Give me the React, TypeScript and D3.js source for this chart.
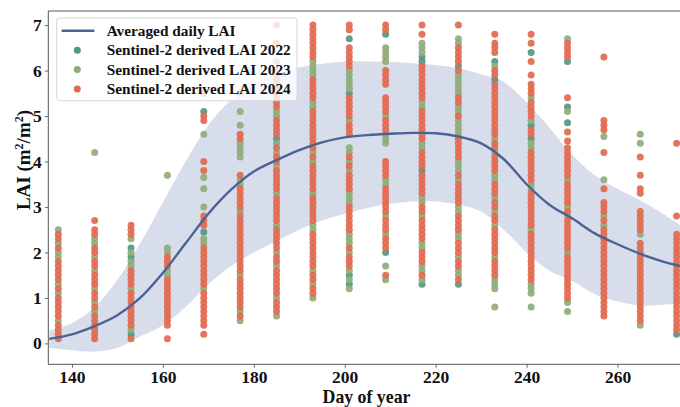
import React, { useEffect, useRef } from 'react';
import * as d3 from 'd3';

// observation days (one column of dots per acquisition)
const days = [137, 145, 153, 161, 169, 177, 185, 193, 201, 209, 217, 225, 233, 241, 249, 257, 265, 273];

const lai2022 = [
  [], [], [2.1, 1.9, 0.2], [], [5.1, 2.45], [], [4.5], [],
  [6.7, 5.5, 1.5, 1.3], [6.8, 2.0], [6.3, 6.2, 3.8, 1.3], [6.1, 1.3],
  [6.2, 5.8], [6.4, 4.8, 4.5], [6.2, 5.2, 4.85], [], [], [0.2],
];

const lai2023 = [
  [2.5, 2.2, 2.0, 1.9, 1.3, 1.1, 0.5],
  [4.2, 2.3, 2.2, 1.9, 1.6, 1.2, 0.9, 0.7],
  [2.3, 2.0, 1.8, 1.7, 1.2, 0.3],
  [3.7, 2.1, 2.0, 1.6, 1.5],
  [4.6, 3.65, 3.4, 3.0, 2.3, 2.2, 1.2],
  [5.5, 5.1, 4.8, 4.4, 4.3, 4.2, 4.1, 3.6, 3.5, 2.9, 1.5, 0.7, 0.5],
  [6.2, 5.7, 5.1, 5.0, 4.4, 4.2, 3.9, 3.3, 2.6, 2.0, 1.7, 1.0, 0.6],
  [6.2, 6.1, 6.0, 5.9, 5.3, 5.2, 4.2, 4.0, 3.3, 2.6, 2.5, 1.6, 1.3, 1.0],
  [6.0, 5.9, 5.8, 5.7, 5.6, 4.9, 4.3, 4.2, 4.0, 3.8, 3.3, 3.2, 3.1, 2.4, 2.3, 2.2, 2.0, 1.6, 1.4, 1.2],
  [6.5, 6.4, 6.3, 6.2, 5.0, 4.6, 4.5, 4.4, 3.6, 3.5, 2.8, 2.4, 1.7, 1.4],
  [6.6, 6.5, 6.4, 5.3, 5.2, 4.4, 4.3, 3.2, 3.1, 2.8, 2.2, 2.1, 1.7, 1.6, 1.4],
  [6.7, 6.6, 5.9, 5.8, 5.7, 5.6, 5.5, 5.2, 5.1, 4.9, 4.8, 4.7, 4.6, 4.0, 3.9, 3.8, 3.6, 3.0, 2.9, 2.4, 2.3, 1.9, 1.6, 1.5],
  [6.1, 4.5, 4.2, 3.7, 3.6, 3.2, 2.9, 2.6, 1.9, 1.4, 1.3, 1.2, 0.8],
  [5.4, 4.9, 4.4, 4.3, 3.5, 3.4, 2.5, 1.3, 1.2, 1.1, 0.8],
  [6.7, 5.1, 3.6, 3.0, 2.8, 2.0, 0.9, 0.7],
  [4.55, 3.6, 2.8, 2.6],
  [4.6, 4.4, 2.4, 0.4],
  [],
];

const lai2024 = [
  [2.4, 2.3, 2.1, 1.8, 1.7, 1.6, 1.5, 1.4, 1.2, 1.0, 0.9, 0.8, 0.7, 0.6, 0.4, 0.3, 0.2, 0.1],
  [2.7, 2.5, 2.4, 2.1, 2.0, 1.8, 1.7, 1.5, 1.4, 1.3, 1.1, 1.0, 0.8, 0.6, 0.5, 0.4, 0.3, 0.2, 0.1],
  [2.6, 2.5, 2.4, 1.6, 1.5, 1.4, 1.3, 1.1, 1.0, 0.9, 0.8, 0.7, 0.6, 0.5, 0.4, 0.1],
  [1.9, 1.8, 1.7, 1.4, 1.3, 1.2, 1.1, 1.0, 0.9, 0.8, 0.7, 0.6, 0.5, 0.4, 0.1],
  [5.5, 5.0, 4.9, 4.0, 3.8, 2.8, 2.7, 2.6, 2.1, 2.0, 1.9, 1.8, 1.7, 1.6, 1.5, 1.4, 1.3, 1.1, 1.0, 0.9, 0.8, 0.7, 0.6, 0.5, 0.4, 0.2],
  [4.6, 4.5, 3.7, 3.4, 3.3, 3.2, 3.1, 3.0, 2.8, 2.7, 2.6, 2.5, 2.4, 2.3, 2.2, 2.1, 2.0, 1.9, 1.8, 1.7, 1.6, 1.4, 1.3, 1.2, 1.1, 1.0, 0.9, 0.8, 0.6],
  [7.0, 6.6, 6.0, 5.9, 5.8, 5.6, 5.5, 5.4, 5.3, 5.2, 4.9, 4.8, 4.7, 4.6, 4.3, 4.1, 4.0, 3.8, 3.7, 3.6, 3.5, 3.4, 3.2, 3.1, 3.0, 2.9, 2.8, 2.7, 2.5, 2.4, 2.3, 2.2, 2.1, 1.9, 1.8, 1.6, 1.5, 1.4, 1.3, 1.2, 1.1, 0.9, 0.8, 0.7],
  [7.0, 6.9, 6.8, 6.7, 6.6, 6.5, 6.4, 6.3, 5.8, 5.7, 5.6, 5.5, 5.4, 5.1, 5.0, 4.9, 4.8, 4.7, 4.6, 4.5, 4.4, 4.3, 4.1, 3.9, 3.8, 3.7, 3.6, 3.5, 3.4, 3.2, 3.1, 3.0, 2.9, 2.8, 2.7, 2.4, 2.3, 2.2, 2.1, 2.0, 1.9, 1.8, 1.7, 1.5, 1.4, 1.2, 1.1],
  [7.0, 6.9, 6.5, 6.4, 6.3, 6.2, 6.1, 5.4, 5.3, 5.2, 5.1, 5.0, 4.8, 4.7, 4.6, 4.1, 3.9, 3.7, 3.6, 3.5, 3.4, 3.0, 2.9, 2.8, 2.7, 2.6, 2.5, 2.1, 1.9, 1.8, 1.7],
  [7.0, 6.9, 6.0, 5.9, 5.8, 5.7, 5.4, 5.3, 5.2, 5.1, 4.9, 4.8, 4.7, 4.0, 3.9, 3.8, 3.7, 3.4, 3.3, 3.2, 3.1, 3.0, 2.9, 2.7, 2.6, 2.5, 2.3, 2.2, 2.1, 1.5],
  [7.0, 6.8, 6.1, 6.0, 5.9, 5.8, 5.7, 5.6, 5.5, 5.4, 5.1, 5.0, 4.9, 4.8, 4.7, 4.6, 4.5, 4.2, 4.1, 4.0, 3.9, 3.7, 3.6, 3.5, 3.4, 3.3, 3.0, 2.9, 2.7, 2.6, 2.5, 2.4, 2.3, 2.0, 1.9, 1.8, 1.5],
  [7.0, 6.5, 6.4, 6.3, 6.2, 6.0, 5.4, 5.3, 5.0, 4.5, 4.4, 4.3, 4.2, 4.1, 3.7, 3.5, 3.4, 3.3, 3.2, 3.1, 2.8, 2.7, 2.6, 2.5, 2.2, 2.1, 2.0, 1.8, 1.7, 1.4],
  [6.8, 6.6, 6.5, 6.4, 6.0, 5.9, 5.7, 5.6, 5.5, 5.4, 5.3, 5.2, 5.1, 5.0, 4.9, 4.8, 4.7, 4.6, 4.4, 4.3, 4.1, 4.0, 3.9, 3.8, 3.5, 3.4, 3.3, 3.1, 3.0, 2.8, 2.7, 2.5, 2.4, 2.3, 2.2, 2.1, 2.0, 1.8, 1.7, 1.6, 1.5],
  [6.8, 6.6, 6.2, 5.9, 5.7, 5.6, 5.5, 5.3, 5.2, 5.1, 5.0, 4.7, 4.6, 4.2, 4.1, 4.0, 3.9, 3.8, 3.7, 3.6, 3.3, 3.2, 3.1, 3.0, 2.9, 2.8, 2.7, 2.6, 2.4, 2.3, 2.2, 2.1, 2.0, 1.9, 1.8, 1.7, 1.6, 1.5, 1.4],
  [6.6, 6.5, 6.4, 6.3, 5.4, 4.65, 4.45, 4.3, 4.2, 4.1, 4.0, 3.9, 3.8, 3.7, 3.5, 3.4, 3.3, 3.2, 3.1, 2.9, 2.7, 2.6, 2.5, 2.4, 2.3, 2.2, 2.1, 1.9, 1.8, 1.7, 1.6, 1.5, 1.4, 1.3, 1.2, 1.1, 1.0],
  [6.3, 4.9, 4.8, 4.7, 4.2, 3.4, 3.1, 3.0, 2.9, 2.7, 2.5, 2.4, 2.3, 2.2, 2.1, 2.0, 1.9, 1.8, 1.7, 1.6, 1.5, 1.4, 1.3, 1.2, 1.1, 1.0, 0.9, 0.8, 0.7, 0.6],
  [4.1, 3.7, 3.4, 3.3, 2.9, 2.8, 2.7, 2.6, 2.5, 2.2, 2.1, 2.0, 1.9, 1.8, 1.7, 1.6, 1.5, 1.4, 1.3, 1.2, 1.1, 1.0, 0.9, 0.8, 0.7, 0.6, 0.5],
  [4.4, 2.8, 2.4, 2.3, 2.2, 2.1, 2.0, 1.9, 1.8, 1.7, 1.6, 1.5, 1.4, 1.3, 1.2, 1.1, 1.0, 0.9, 0.8, 0.7, 0.6, 0.5, 0.4, 0.3],
];

// averaged daily LAI and its spread band
const curveDays = [135, 140, 145, 150, 155, 160, 165, 170, 175, 180, 185, 190, 195, 200, 205, 210, 215, 220, 225, 230, 235, 240, 245, 250, 255, 260, 265, 270, 276];
const avgLai = [0.1, 0.2, 0.38, 0.62, 1.0, 1.55, 2.2, 2.85, 3.38, 3.78, 4.03, 4.25, 4.42, 4.53, 4.58, 4.61, 4.63, 4.62, 4.55, 4.4, 4.05, 3.5, 3.05, 2.75, 2.42, 2.18, 1.97, 1.8, 1.65];
const upperLai = [0.28, 0.45, 0.8, 1.4, 2.2, 3.1, 4.0, 4.8, 5.35, 5.7, 5.92, 6.07, 6.15, 6.2, 6.2, 6.19, 6.16, 6.12, 6.05, 5.92, 5.75, 5.3, 4.75, 4.15, 3.7, 3.4, 3.15, 2.85, 2.45];
const lowerLai = [-0.1, -0.15, -0.18, -0.1, 0.15, 0.4, 0.8, 1.3, 1.7, 2.0, 2.25, 2.5, 2.7, 2.85, 2.98, 3.07, 3.12, 3.12, 3.05, 2.9, 2.5, 2.0, 1.6, 1.38, 1.08, 0.92, 0.83, 0.85, 0.9];

const xTicks = [140, 160, 180, 200, 220, 240, 260];
const yTicks = [0, 1, 2, 3, 4, 5, 6, 7];

const seriesNames = ['Sentinel-2 derived LAI 2022', 'Sentinel-2 derived LAI 2023', 'Sentinel-2 derived LAI 2024'];
const seriesColors = ['#4f9883', '#8fab79', '#e2694f'];
const lineColor = '#4a6395';
const font = '"Liberation Serif", "Times New Roman", serif';

const App = () => {
  const ref = useRef<SVGSVGElement>(null);

  useEffect(() => {
    const width = 680;
    const height = 407;
    const left = 48.3, top = 11, bottom = 364.3, right = 688;

    const x = d3.scaleLinear().domain([134.8, 275.5]).range([left, right]);
    const y = d3.scaleLinear().domain([-0.46, 7.31]).range([bottom, top]);

    const svg = d3.select(ref.current).attr('width', width).attr('height', height);
    svg.selectAll('*').remove();

    svg.append('defs').append('clipPath').attr('id', 'plot-clip')
      .append('rect').attr('x', left).attr('y', top).attr('width', right - left).attr('height', bottom - top);

    const plot = svg.append('g').attr('clip-path', 'url(#plot-clip)');

    const band = curveDays.map((d, i) => ({ d, lo: lowerLai[i], hi: upperLai[i], m: avgLai[i] }));
    plot.append('path')
      .datum(band)
      .attr('fill', '#d3d9e8')
      .attr('opacity', 0.9)
      .attr('d', d3.area<any>().x(p => x(p.d)).y0(p => y(p.lo)).y1(p => y(p.hi)).curve(d3.curveCatmullRom));

    [lai2022, lai2023, lai2024].forEach((series, k) => {
      const pts: { d: number; v: number }[] = [];
      series.forEach((vals, i) => vals.forEach(v => pts.push({ d: days[i], v })));
      plot.append('g').selectAll('circle')
        .data(pts)
        .enter().append('circle')
        .attr('cx', p => x(p.d))
        .attr('cy', p => y(p.v))
        .attr('r', 3.5)
        .attr('fill', seriesColors[k])
        .attr('fill-opacity', 0.92);
    });

    plot.append('path')
      .datum(band)
      .attr('fill', 'none')
      .attr('stroke', lineColor)
      .attr('stroke-width', 2.4)
      .attr('d', d3.line<any>().x(p => x(p.d)).y(p => y(p.m)).curve(d3.curveCatmullRom));

    // axes
    const xAxis = svg.append('g')
      .attr('transform', `translate(0, ${bottom})`)
      .call(d3.axisBottom(x).tickValues(xTicks).tickSize(3.5).tickPadding(2.5).tickFormat(d3.format('d')));
    const yAxis = svg.append('g')
      .attr('transform', `translate(${left}, 0)`)
      .call(d3.axisLeft(y).tickValues(yTicks).tickSize(3.5).tickPadding(3).tickFormat(d3.format('d')));
    [xAxis, yAxis].forEach(a => {
      a.select('.domain').remove();
      a.selectAll('.tick line').attr('stroke', '#444').attr('stroke-width', 0.8);
      a.selectAll('.tick text')
        .attr('font-family', font).attr('font-weight', 'bold').attr('font-size', 17.5).attr('fill', '#111');
    });

    // spines
    svg.append('line').attr('x1', left).attr('x2', left).attr('y1', top).attr('y2', bottom).attr('stroke', '#555').attr('stroke-width', 1);
    svg.append('line').attr('x1', left).attr('x2', right).attr('y1', bottom).attr('y2', bottom).attr('stroke', '#555').attr('stroke-width', 1);
    svg.append('line').attr('x1', left).attr('x2', right).attr('y1', top).attr('y2', top).attr('stroke', '#555').attr('stroke-width', 1);

    svg.append('text')
      .attr('x', 366.5).attr('y', 402.5)
      .attr('text-anchor', 'middle')
      .attr('font-family', font).attr('font-weight', 'bold').attr('font-size', 17.8).attr('fill', '#111')
      .text('Day of year');

    const yl = svg.append('text')
      .attr('transform', 'translate(30, 160) rotate(-90)')
      .attr('text-anchor', 'middle')
      .attr('font-family', font).attr('font-weight', 'bold').attr('font-size', 19).attr('fill', '#111');
    yl.append('tspan').text('LAI (m');
    yl.append('tspan').attr('dy', -7).attr('font-size', 12).text('2');
    yl.append('tspan').attr('dy', 7).text('/m');
    yl.append('tspan').attr('dy', -7).attr('font-size', 12).text('2');
    yl.append('tspan').attr('dy', 7).text(')');

    // legend
    const lg = svg.append('g');
    lg.append('rect')
      .attr('x', 56.7).attr('y', 18).attr('width', 240.3).attr('height', 82.7).attr('rx', 3)
      .attr('fill', 'white').attr('fill-opacity', 0.8).attr('stroke', '#d6d6d6').attr('stroke-width', 1);
    lg.append('line').attr('x1', 61.7).attr('x2', 94.3).attr('y1', 30.7).attr('y2', 30.7)
      .attr('stroke', lineColor).attr('stroke-width', 2.4);
    const rowY = [30.7, 50.2, 69.6, 89];
    const labels = ['Averaged daily LAI', ...seriesNames];
    labels.forEach((t, i) => {
      if (i > 0) {
        lg.append('circle').attr('cx', 77.3).attr('cy', rowY[i]).attr('r', 3.5).attr('fill', seriesColors[i - 1]);
      }
      lg.append('text')
        .attr('x', 106.7).attr('y', rowY[i] + 5)
        .attr('font-family', font).attr('font-weight', 'bold').attr('font-size', 15.3).attr('fill', '#111')
        .text(t);
    });
  }, []);

  return (
    <div style={{ position: 'absolute', left: 0, top: 0, width: 680, height: 407, background: 'white' }}>
      <svg ref={ref}></svg>
    </div>
  );
};

export default App;
